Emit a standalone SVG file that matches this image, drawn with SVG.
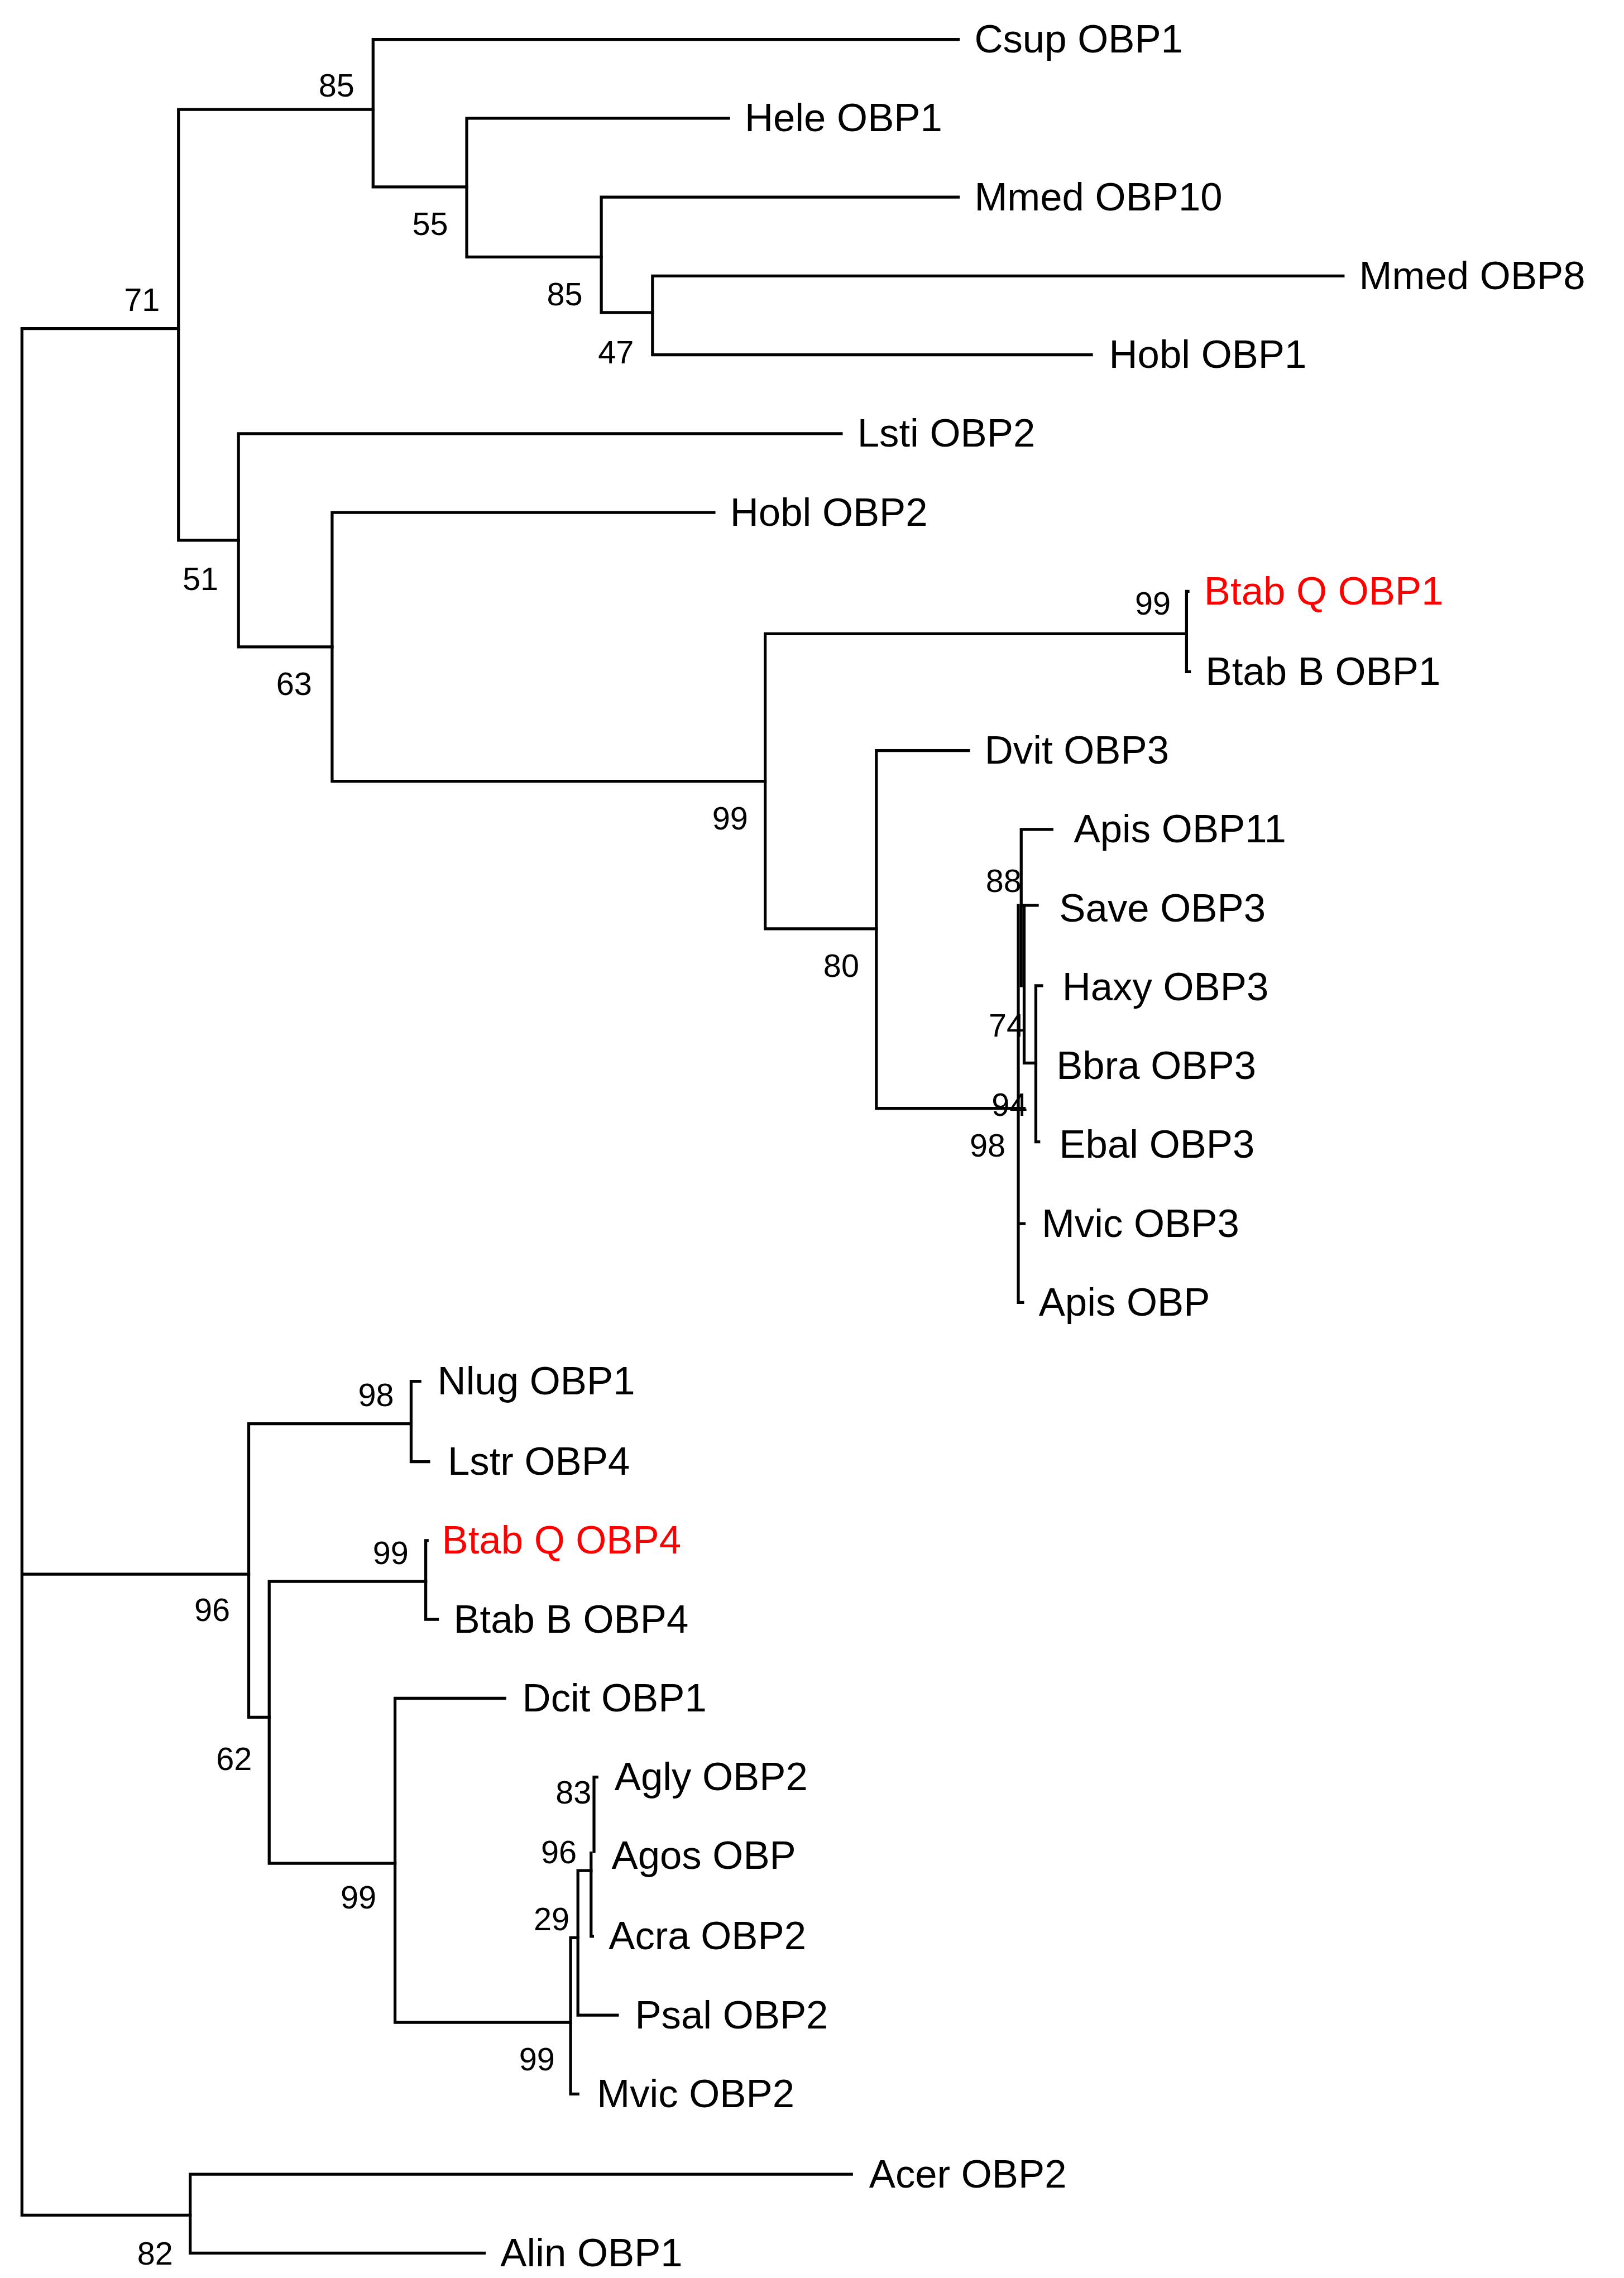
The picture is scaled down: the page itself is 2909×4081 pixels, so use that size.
<svg xmlns="http://www.w3.org/2000/svg" width="2909" height="4081" viewBox="0 0 2909 4081">
<style>
.e{fill:none;stroke:#000;stroke-width:2;stroke-linecap:square}
.l{font-family:"Liberation Sans",Arial,sans-serif;font-size:27px;fill:#000}
.r{fill:#ff0000}
.b{font-family:"Liberation Sans",Arial,sans-serif;font-size:22px;fill:#000;text-anchor:middle}
</style>
<rect width="2909" height="4081" fill="#fff"/>
<g transform="scale(2.6207,2.616)">
<g id="connectors">
<path class="e" d="M15,225V1517M15,225H122M15,1078H170M15,1517H130"/>
<path class="e" d="M122,75V370M122,75H255M122,370H163"/>
<path class="e" d="M255,27V128M255,27H655M255,128H319"/>
<path class="e" d="M319,81V176M319,81H498M319,176H411"/>
<path class="e" d="M411,135V214M411,135H655M411,214H446"/>
<path class="e" d="M446,189V243M446,189H918M446,243H746"/>
<path class="e" d="M163,297V443M163,297H575M163,443H227"/>
<path class="e" d="M227,351V535M227,351H488M227,535H523"/>
<path class="e" d="M523,434V636M523,434H811M523,636H599"/>
<path class="e" d="M811,405V460M811,405H812M811,460H813"/>
<path class="e" d="M599,514V759M599,514H662M599,759H700"/>
<path class="e" d="M696,620V892M696,838H700M696,892H699"/>
<path class="e" d="M698,568V675M698,568H719M698,620H709"/>
<path class="e" d="M700,620V728M700,728H708"/>
<path class="e" d="M708,675V782M708,675H712M708,782H710"/>
<path class="e" d="M170,975V1176M170,975H281M170,1176H184"/>
<path class="e" d="M281,946V1001M281,946H287M281,1001H293"/>
<path class="e" d="M184,1083V1276M184,1083H291M184,1276H270"/>
<path class="e" d="M291,1055V1109M291,1055H292M291,1109H299"/>
<path class="e" d="M270,1163V1385M270,1163H345M270,1385H390"/>
<path class="e" d="M390,1327V1434M390,1434H395M390,1327H395"/>
<path class="e" d="M395,1281V1380M395,1380H422M395,1281H404"/>
<path class="e" d="M404,1269V1326M404,1326H405"/>
<path class="e" d="M406,1217V1268M406,1217H408"/>
<path class="e" d="M130,1489V1543M130,1489H582M130,1543H331"/>
</g>
<g id="leaves">
<text class="l" x="666" y="36">Csup OBP1</text>
<text class="l" x="509" y="90">Hele OBP1</text>
<text class="l" x="666" y="144">Mmed OBP10</text>
<text class="l" x="929" y="198">Mmed OBP8</text>
<text class="l" x="758" y="252">Hobl OBP1</text>
<text class="l" x="586" y="306">Lsti OBP2</text>
<text class="l" x="499" y="360">Hobl OBP2</text>
<text class="l r" x="823" y="414">Btab Q OBP1</text>
<text class="l" x="824" y="469">Btab B OBP1</text>
<text class="l" x="673" y="523">Dvit OBP3</text>
<text class="l" x="734" y="577">Apis OBP11</text>
<text class="l" x="724" y="631">Save OBP3</text>
<text class="l" x="726" y="685">Haxy OBP3</text>
<text class="l" x="722" y="739">Bbra OBP3</text>
<text class="l" x="724" y="793">Ebal OBP3</text>
<text class="l" x="712" y="847">Mvic OBP3</text>
<text class="l" x="710" y="901">Apis OBP</text>
<text class="l" x="299" y="955">Nlug OBP1</text>
<text class="l" x="306" y="1010">Lstr OBP4</text>
<text class="l r" x="302" y="1064">Btab Q OBP4</text>
<text class="l" x="310" y="1118">Btab B OBP4</text>
<text class="l" x="357" y="1172">Dcit OBP1</text>
<text class="l" x="420" y="1226">Agly OBP2</text>
<text class="l" x="418" y="1280">Agos OBP</text>
<text class="l" x="416" y="1335">Acra OBP2</text>
<text class="l" x="434" y="1389">Psal OBP2</text>
<text class="l" x="408" y="1443">Mvic OBP2</text>
<text class="l" x="594" y="1498">Acer OBP2</text>
<text class="l" x="342" y="1552">Alin OBP1</text>
</g>
<g id="bootstrap">
<text class="b" x="230" y="66">85</text>
<text class="b" x="294" y="161">55</text>
<text class="b" x="97" y="213">71</text>
<text class="b" x="386" y="209">85</text>
<text class="b" x="421" y="249">47</text>
<text class="b" x="137" y="404">51</text>
<text class="b" x="201" y="476">63</text>
<text class="b" x="499" y="568">99</text>
<text class="b" x="788" y="421">99</text>
<text class="b" x="575" y="669">80</text>
<text class="b" x="686" y="611">88</text>
<text class="b" x="688" y="710">74</text>
<text class="b" x="690" y="764">94</text>
<text class="b" x="675" y="792">98</text>
<text class="b" x="257" y="963">98</text>
<text class="b" x="267" y="1071">99</text>
<text class="b" x="145" y="1110">96</text>
<text class="b" x="160" y="1212">62</text>
<text class="b" x="245" y="1307">99</text>
<text class="b" x="392" y="1235">83</text>
<text class="b" x="382" y="1276">96</text>
<text class="b" x="377" y="1322">29</text>
<text class="b" x="367" y="1418">99</text>
<text class="b" x="106" y="1551">82</text>
</g>
</g>
</svg>
